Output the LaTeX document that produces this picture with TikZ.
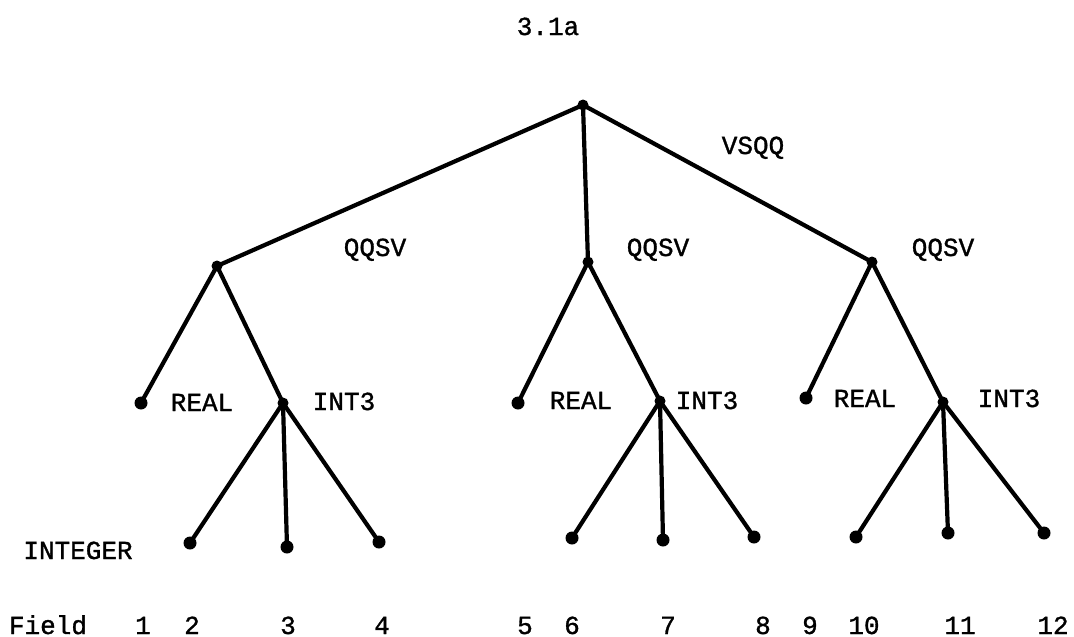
\documentclass[tikz,border=0pt]{standalone}
\usepackage{fontspec}
\newfontfamily\tw{Liberation Mono}[FakeBold=1.2]
\begin{document}
\begin{tikzpicture}[x=1pt,y=-1pt,
  dot/.style={circle,fill=black,inner sep=0pt,minimum size=13pt},
  sdot/.style={circle,fill=black,inner sep=0pt,minimum size=11pt},
  edge/.style={line width=4.2pt,line cap=round},
  lbl/.style={anchor=base,inner sep=0pt,font=\tw\fontsize{26}{26}\selectfont}]
\useasboundingbox (0,0) rectangle (1074,637);
% nodes
\node[sdot] (r) at (583,105) {};
\node[sdot] (a) at (217,266) {};
\node[sdot] (b) at (588,262) {};
\node[sdot] (c) at (872,262) {};
\node[dot] (a1) at (141,403) {};
\node[sdot] (a2) at (283,403) {};
\node[dot] (b1) at (518,403) {};
\node[sdot] (b2) at (660,401) {};
\node[dot] (c1) at (806,398) {};
\node[sdot] (c2) at (943,402) {};
\node[dot] (a21) at (190,543) {};
\node[dot] (a22) at (287,547) {};
\node[dot] (a23) at (379,542) {};
\node[dot] (b21) at (572,538) {};
\node[dot] (b22) at (663,540) {};
\node[dot] (b23) at (754,537) {};
\node[dot] (c21) at (856,537) {};
\node[dot] (c22) at (948,533) {};
\node[dot] (c23) at (1044,533) {};
% edges
\draw[edge] (r.center) -- (a.center);
\draw[edge] (r.center) -- (b.center);
\draw[edge] (r.center) -- (c.center);
\draw[edge] (a.center) -- (a1.center);
\draw[edge] (a.center) -- (a2.center);
\draw[edge] (b.center) -- (b1.center);
\draw[edge] (b.center) -- (b2.center);
\draw[edge] (c.center) -- (c1.center);
\draw[edge] (c.center) -- (c2.center);
\draw[edge] (a2.center) -- (a21.center);
\draw[edge] (a2.center) -- (a22.center);
\draw[edge] (a2.center) -- (a23.center);
\draw[edge] (b2.center) -- (b21.center);
\draw[edge] (b2.center) -- (b22.center);
\draw[edge] (b2.center) -- (b23.center);
\draw[edge] (c2.center) -- (c21.center);
\draw[edge] (c2.center) -- (c22.center);
\draw[edge] (c2.center) -- (c23.center);
% labels
\node[lbl] (title) at (548,35) {3.1a};
\node[lbl] (vsqq) at (753,154) {VSQQ};
\node[lbl] (qa) at (375,256) {QQSV};
\node[lbl] (qb) at (658,256) {QQSV};
\node[lbl] (qc) at (943,256) {QQSV};
\node[lbl] (ra) at (202,411) {REAL};
\node[lbl] (rb) at (581,409) {REAL};
\node[lbl] (rc) at (865,407) {REAL};
\node[lbl] (ia) at (344,410) {INT3};
\node[lbl] (ib) at (707,409) {INT3};
\node[lbl] (ic) at (1009,407) {INT3};
\node[lbl] (integer) at (78,559) {INTEGER};
\node[lbl] (field) at (48,634) {Field};
\node[lbl] (f1) at (143,634) {1};
\node[lbl] (f2) at (192,634) {2};
\node[lbl] (f3) at (288,634) {3};
\node[lbl] (f4) at (382,634) {4};
\node[lbl] (f5) at (525,634) {5};
\node[lbl] (f6) at (572,634) {6};
\node[lbl] (f7) at (668,634) {7};
\node[lbl] (f8) at (763,634) {8};
\node[lbl] (f9) at (810,634) {9};
\node[lbl] (f10) at (864,634) {10};
\node[lbl] (f11) at (960,634) {11};
\node[lbl] (f12) at (1053,634) {12};
\end{tikzpicture}
\end{document}
